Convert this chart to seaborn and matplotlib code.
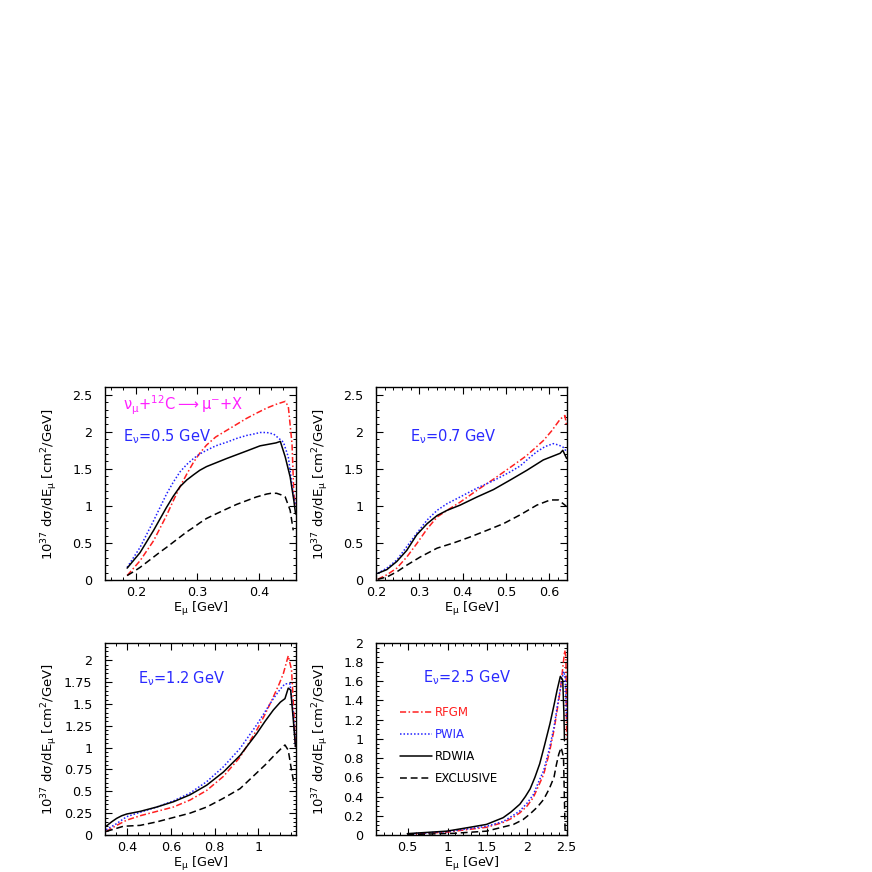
import numpy as np
import pandas as pd
import matplotlib
matplotlib.use("Agg")
import matplotlib.pyplot as plt
from matplotlib.ticker import MultipleLocator, FuncFormatter
import seaborn as sns

sns.set_theme(style="white")
plt.rcParams['font.family'] = ['DejaVu Sans']
plt.rcParams['mathtext.fontset'] = 'dejavusans'
plt.rcParams['mathtext.default'] = 'regular'

models = ["RFGM", "PWIA", "RDWIA", "EXCLUSIVE"]
colors = {"RFGM": "#ff2020", "PWIA": "#2020ff", "RDWIA": "black", "EXCLUSIVE": "black"}
dashes = {"RFGM": (4, 1.6, 1, 1.6), "PWIA": (1, 1.3), "RDWIA": "", "EXCLUSIVE": (4.5, 2.5)}

# ---------- Panel 1: E_nu = 0.5 GeV ----------
p1_rdwia_x = [0.186, 0.207, 0.229, 0.250, 0.261, 0.272, 0.283, 0.294, 0.304, 0.315, 0.330, 0.348, 0.364, 0.380, 0.402, 0.428, 0.435, 0.443, 0.451, 0.457, 0.4598]
p1_rdwia_y = [0.16, 0.37, 0.67, 0.98, 1.13, 1.26, 1.35, 1.42, 1.48, 1.53, 1.58, 1.64, 1.69, 1.74, 1.81, 1.85, 1.87, 1.66, 1.39, 1.07, 0.89]
p1_pwia_x = [0.186, 0.207, 0.229, 0.250, 0.261, 0.272, 0.283, 0.294, 0.304, 0.315, 0.330, 0.348, 0.364, 0.380, 0.392, 0.402, 0.413, 0.424, 0.440, 0.448, 0.456, 0.4598]
p1_pwia_y = [0.17, 0.44, 0.80, 1.16, 1.32, 1.46, 1.56, 1.64, 1.70, 1.75, 1.81, 1.86, 1.91, 1.95, 1.97, 1.99, 1.99, 1.97, 1.86, 1.66, 1.16, 1.00]
p1_rfgm_x = [0.186, 0.207, 0.229, 0.250, 0.261, 0.272, 0.283, 0.294, 0.304, 0.315, 0.330, 0.348, 0.364, 0.380, 0.396, 0.413, 0.428, 0.443, 0.448, 0.454, 0.457, 0.4598]
p1_rfgm_y = [0.06, 0.26, 0.53, 0.87, 1.07, 1.26, 1.43, 1.59, 1.71, 1.82, 1.93, 2.02, 2.10, 2.18, 2.25, 2.32, 2.37, 2.41, 2.34, 1.84, 1.16, 1.00]
p1_excl_x = [0.186, 0.196, 0.207, 0.218, 0.229, 0.240, 0.250, 0.261, 0.272, 0.283, 0.294, 0.304, 0.315, 0.330, 0.348, 0.364, 0.380, 0.396, 0.413, 0.420, 0.429, 0.436, 0.443, 0.451, 0.456]
p1_excl_y = [0.06, 0.11, 0.17, 0.24, 0.31, 0.38, 0.44, 0.51, 0.58, 0.65, 0.71, 0.77, 0.83, 0.89, 0.96, 1.02, 1.07, 1.12, 1.16, 1.17, 1.17, 1.15, 1.12, 0.94, 0.67]

# ---------- Panel 2: E_nu = 0.7 GeV ----------
p2_rdwia_x = [0.204, 0.225, 0.248, 0.271, 0.294, 0.318, 0.341, 0.364, 0.394, 0.433, 0.471, 0.510, 0.548, 0.586, 0.625, 0.631, 0.6398]
p2_rdwia_y = [0.09, 0.14, 0.25, 0.40, 0.61, 0.76, 0.87, 0.94, 1.01, 1.12, 1.22, 1.35, 1.48, 1.62, 1.71, 1.75, 1.64]
p2_pwia_x = [0.204, 0.225, 0.248, 0.271, 0.294, 0.318, 0.341, 0.364, 0.394, 0.433, 0.471, 0.510, 0.533, 0.552, 0.571, 0.590, 0.609, 0.622, 0.632, 0.6398]
p2_pwia_y = [0.09, 0.16, 0.27, 0.45, 0.63, 0.81, 0.94, 1.03, 1.12, 1.24, 1.34, 1.46, 1.54, 1.64, 1.73, 1.80, 1.84, 1.82, 1.79, 1.73]
p2_rfgm_x = [0.204, 0.225, 0.248, 0.271, 0.294, 0.318, 0.341, 0.364, 0.394, 0.433, 0.471, 0.510, 0.548, 0.586, 0.605, 0.625, 0.636, 0.6398]
p2_rfgm_y = [0.01, 0.07, 0.16, 0.31, 0.49, 0.69, 0.85, 0.94, 1.05, 1.21, 1.36, 1.52, 1.68, 1.88, 2.01, 2.17, 2.22, 2.07]
p2_excl_x = [0.204, 0.225, 0.248, 0.271, 0.302, 0.341, 0.379, 0.417, 0.456, 0.494, 0.533, 0.571, 0.602, 0.621, 0.636, 0.6398]
p2_excl_y = [0.01, 0.04, 0.11, 0.20, 0.31, 0.43, 0.50, 0.58, 0.67, 0.76, 0.88, 1.01, 1.08, 1.08, 1.01, 0.99]

# ---------- Panel 3: E_nu = 1.2 GeV ----------
p3_rdwia_x = [0.305, 0.330, 0.353, 0.376, 0.399, 0.460, 0.536, 0.612, 0.688, 0.764, 0.840, 0.916, 0.992, 1.030, 1.068, 1.100, 1.121, 1.136, 1.147, 1.159, 1.169]
p3_rdwia_y = [0.10, 0.15, 0.19, 0.22, 0.24, 0.27, 0.32, 0.38, 0.46, 0.57, 0.72, 0.91, 1.16, 1.30, 1.43, 1.52, 1.56, 1.68, 1.66, 1.32, 1.01]
p3_pwia_x = [0.305, 0.353, 0.399, 0.460, 0.536, 0.612, 0.688, 0.764, 0.840, 0.916, 0.992, 1.030, 1.068, 1.100, 1.121, 1.144, 1.159, 1.169]
p3_pwia_y = [0.06, 0.13, 0.21, 0.26, 0.32, 0.39, 0.48, 0.61, 0.78, 0.99, 1.26, 1.41, 1.56, 1.67, 1.73, 1.73, 1.39, 1.01]
p3_rfgm_x = [0.305, 0.353, 0.399, 0.460, 0.536, 0.612, 0.688, 0.764, 0.840, 0.916, 0.992, 1.030, 1.068, 1.095, 1.114, 1.136, 1.151, 1.162, 1.169]
p3_rfgm_y = [0.04, 0.11, 0.17, 0.22, 0.27, 0.32, 0.40, 0.51, 0.67, 0.89, 1.20, 1.38, 1.58, 1.73, 1.85, 2.05, 1.89, 1.39, 1.01]
p3_excl_x = [0.305, 0.384, 0.460, 0.536, 0.612, 0.688, 0.764, 0.840, 0.916, 0.992, 1.030, 1.068, 1.100, 1.121, 1.136, 1.151, 1.162]
p3_excl_y = [0.04, 0.10, 0.11, 0.15, 0.20, 0.25, 0.32, 0.42, 0.53, 0.71, 0.80, 0.90, 0.98, 1.03, 0.97, 0.74, 0.59]

# ---------- Panel 4: E_nu = 2.5 GeV ----------
p4_rdwia_x = [0.494, 0.99, 1.28, 1.49, 1.70, 1.80, 1.91, 1.98, 2.04, 2.10, 2.16, 2.22, 2.29, 2.34, 2.38, 2.42, 2.45, 2.465, 2.472]
p4_rdwia_y = [0.014, 0.04, 0.08, 0.11, 0.18, 0.24, 0.32, 0.40, 0.48, 0.60, 0.74, 0.93, 1.16, 1.35, 1.51, 1.65, 1.61, 1.26, 0.98]
p4_pwia_x = [0.494, 0.99, 1.49, 1.70, 1.80, 1.91, 2.00, 2.08, 2.14, 2.21, 2.28, 2.34, 2.38, 2.42, 2.46, 2.48, 2.499]
p4_pwia_y = [0.01, 0.035, 0.09, 0.14, 0.19, 0.25, 0.33, 0.42, 0.54, 0.67, 0.89, 1.12, 1.33, 1.52, 1.70, 1.65, 1.20]
p4_rfgm_x = [0.494, 0.99, 1.49, 1.70, 1.80, 1.91, 2.00, 2.08, 2.14, 2.21, 2.28, 2.34, 2.38, 2.42, 2.475, 2.49, 2.499]
p4_rfgm_y = [0.007, 0.03, 0.08, 0.13, 0.17, 0.23, 0.30, 0.39, 0.50, 0.63, 0.85, 1.09, 1.30, 1.51, 1.92, 1.85, 1.00]
p4_excl_x = [0.494, 1.07, 1.49, 1.83, 1.95, 2.04, 2.13, 2.21, 2.28, 2.34, 2.37, 2.40, 2.43, 2.46, 2.48]
p4_excl_y = [0.004, 0.017, 0.04, 0.11, 0.16, 0.22, 0.29, 0.37, 0.48, 0.60, 0.73, 0.84, 0.91, 0.81, 0.04]

panels = [
    dict(series={"RFGM": (p1_rfgm_x, p1_rfgm_y), "PWIA": (p1_pwia_x, p1_pwia_y),
                 "RDWIA": (p1_rdwia_x, p1_rdwia_y), "EXCLUSIVE": (p1_excl_x, p1_excl_y)},
         xlim=(0.15, 0.46), ylim=(0, 2.6), xmaj=0.1, xmin=0.02, ymaj=0.5, ymin=0.1,
         label="$E_{\\nu}$=0.5 GeV", lpos=(0.094, 0.745)),
    dict(series={"RFGM": (p2_rfgm_x, p2_rfgm_y), "PWIA": (p2_pwia_x, p2_pwia_y),
                 "RDWIA": (p2_rdwia_x, p2_rdwia_y), "EXCLUSIVE": (p2_excl_x, p2_excl_y)},
         xlim=(0.2, 0.64), ylim=(0, 2.6), xmaj=0.1, xmin=0.02, ymaj=0.5, ymin=0.1,
         label="$E_{\\nu}$=0.7 GeV", lpos=(0.178, 0.745)),
    dict(series={"RFGM": (p3_rfgm_x, p3_rfgm_y), "PWIA": (p3_pwia_x, p3_pwia_y),
                 "RDWIA": (p3_rdwia_x, p3_rdwia_y), "EXCLUSIVE": (p3_excl_x, p3_excl_y)},
         xlim=(0.3, 1.17), ylim=(0, 2.2), xmaj=0.2, xmin=0.05, ymaj=0.25, ymin=0.05,
         label="$E_{\\nu}$=1.2 GeV", lpos=(0.173, 0.815)),
    dict(series={"RFGM": (p4_rfgm_x, p4_rfgm_y), "PWIA": (p4_pwia_x, p4_pwia_y),
                 "RDWIA": (p4_rdwia_x, p4_rdwia_y), "EXCLUSIVE": (p4_excl_x, p4_excl_y)},
         xlim=(0.1, 2.5), ylim=(0, 2.0), xmaj=0.5, xmin=0.1, ymaj=0.2, ymin=0.05,
         label="$E_{\\nu}$=2.5 GeV", lpos=(0.246, 0.82)),
]

W = H = 872.0
boxes = [(105, 387.3, 295.7, 580), (376, 387.3, 566.7, 580),
         (105, 642.7, 295.7, 835), (376, 642.7, 566.7, 835)]

fig = plt.figure(figsize=(8.72, 8.72), dpi=100)
fig.patch.set_facecolor("white")

fmt = FuncFormatter(lambda v, p: "%g" % round(v, 6))

for i, (pan, (l, t, r, b)) in enumerate(zip(panels, boxes)):
    ax = fig.add_axes([l / W, 1 - b / H, (r - l) / W, (b - t) / H])
    ax.set_facecolor("white")
    rows = []
    for m in models:
        xs, ys = pan["series"][m]
        for x, y in zip(xs, ys):
            rows.append({"E_mu": x, "xsec": y, "model": m})
    df = pd.DataFrame(rows)
    sns.lineplot(data=df, x="E_mu", y="xsec", hue="model", style="model",
                 hue_order=models, style_order=models, palette=colors, dashes=dashes,
                 estimator=None, sort=False, linewidth=1.1, ax=ax,
                 legend=(i == 3))
    ax.set_xlim(*pan["xlim"])
    ax.set_ylim(*pan["ylim"])
    ax.xaxis.set_major_locator(MultipleLocator(pan["xmaj"]))
    ax.xaxis.set_minor_locator(MultipleLocator(pan["xmin"]))
    ax.yaxis.set_major_locator(MultipleLocator(pan["ymaj"]))
    ax.yaxis.set_minor_locator(MultipleLocator(pan["ymin"]))
    ax.xaxis.set_major_formatter(fmt)
    ax.yaxis.set_major_formatter(fmt)
    ax.tick_params(which="both", direction="in", top=True, right=True,
                   bottom=True, left=True, colors="black", labelsize=9.2)
    ax.tick_params(which="major", length=5, width=0.8)
    ax.tick_params(which="minor", length=2.5, width=0.7)
    ax.tick_params(axis="y", which="major", pad=9)
    ax.tick_params(axis="x", which="major", pad=4)
    for s in ax.spines.values():
        s.set_color("black")
        s.set_linewidth(1.0)
        s.set_visible(True)
    ax.grid(False)
    ax.set_xlabel("E$_{\\mu}$ [GeV]", fontsize=9.2, color="black")
    ax.set_ylabel("10$^{37}$ d$\\sigma$/dE$_{\\mu}$ [cm$^{2}$/GeV]", fontsize=9.5, color="black")
    ax.xaxis.set_label_coords(0.5, -0.105)
    ax.yaxis.set_label_coords(-0.235, 0.5)
    ax.text(pan["lpos"][0], pan["lpos"][1], pan["label"], transform=ax.transAxes,
            color="#2a2aff", fontsize=10.5, ha="left", va="center")
    if i == 0:
        ax.text(0.094, 0.905, "$\\nu_{\\mu}$+$^{12}$C$\\longrightarrow\\mu^{-}$+X",
                transform=ax.transAxes, color="#ff20ff", fontsize=10.5,
                ha="left", va="center")
    if i == 3:
        leg = ax.legend(loc="upper left", bbox_to_anchor=(0.1, 0.695), frameon=False,
                        fontsize=8.5, handlelength=2.7, handletextpad=0.3,
                        labelspacing=0.75, borderaxespad=0.0,
                        labelcolor=[colors[m] if m != "PWIA" else "#2a2aff" for m in models])
        for line in leg.get_lines():
            line.set_linewidth(1.1)

fig.savefig("out.png", dpi=100, facecolor="white")
